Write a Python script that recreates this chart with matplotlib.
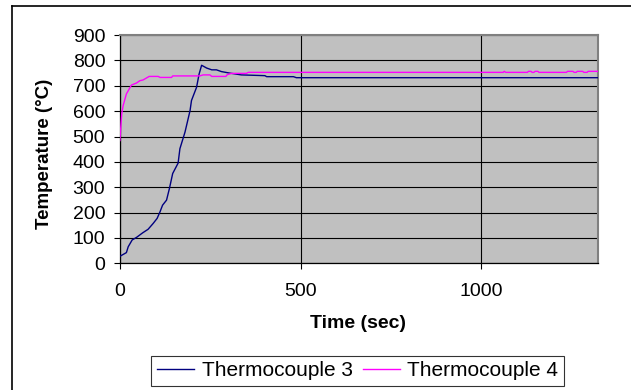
import matplotlib
matplotlib.use("Agg")
import matplotlib.pyplot as plt
from matplotlib.lines import Line2D

plt.rcParams['font.family'] = ['Liberation Sans', 'DejaVu Sans']

# Thermocouple 3 (time in sec, temperature in C)
tc3_time = [0, 2, 18, 23, 34, 46, 63, 78, 92, 103, 111, 118, 129, 137, 146, 161,
            166, 180, 194, 198, 212, 219, 226, 240, 254, 267, 281, 304, 336, 401,
            406, 480, 488, 1321]
tc3_temp = [28, 29, 42, 65, 92, 102, 120, 134, 157, 177, 203, 229, 249, 295, 354, 395,
            452, 517, 602, 642, 694, 746, 781, 770, 763, 763, 756, 750, 743, 740,
            736, 736, 732, 732]

# Thermocouple 4
tc4_time = [0, 5, 9, 18, 32, 46, 55, 64, 81, 106, 111, 143, 146, 221, 230, 249,
            254, 293, 297, 309, 350, 355, 1060, 1063, 1067, 1127, 1130, 1137, 1140,
            1145, 1148, 1156, 1159, 1235, 1238, 1253, 1256, 1262, 1265, 1280, 1283,
            1292, 1295, 1321]
tc4_temp = [484, 589, 622, 668, 703, 711, 720, 723, 737, 737, 733, 733, 739, 739, 743, 743,
            737, 737, 744, 749, 749, 753, 753, 757, 753, 753, 757, 757, 753,
            753, 757, 757, 753, 753, 757, 757, 753, 753, 757, 757, 753,
            753, 757, 757]

x_ticks = [0, 500, 1000]
y_ticks = list(range(0, 901, 100))

fig = plt.figure(figsize=(6.31, 3.9), dpi=100)
ax = fig.add_axes([0.190, 0.325, 0.757, 0.585])
ax.set_facecolor('#c0c0c0')

# outer chart border
fig.add_artist(Line2D([11.5/631, 11.5/631], [0, 1 - 5.5/390], transform=fig.transFigure,
                      color='black', lw=1.2))
fig.add_artist(Line2D([11.5/631, 1], [1 - 5.5/390, 1 - 5.5/390], transform=fig.transFigure,
                      color='black', lw=1.2))

ax.plot(tc3_time, tc3_temp, color='#000080', lw=1.0, label='Thermocouple 3', zorder=3)
ax.plot(tc4_time, tc4_temp, color='#ff00ff', lw=1.0, label='Thermocouple 4', zorder=3)

ax.set_xlim(0, 1321)
ax.set_ylim(0, 900)
ax.set_xticks(x_ticks)
ax.set_yticks(y_ticks)
ax.grid(True, color='black', lw=0.8, zorder=1)
ax.set_axisbelow(True)

for s in ['left', 'bottom']:
    ax.spines[s].set_color('black')
    ax.spines[s].set_linewidth(0.9)
for s in ['top', 'right']:
    ax.spines[s].set_color('#808080')
    ax.spines[s].set_linewidth(1.5)

ax.tick_params(axis='x', direction='out', length=4, width=0.8, pad=10, labelsize=14)
ax.tick_params(axis='y', direction='out', length=4.5, width=0.8, pad=6, labelsize=14)

fig.text(358.5/631, 1 - 323/390, 'Time (sec)', ha='center', va='center',
         fontsize=14, fontweight='bold')
fig.text(45/631, 1 - 154/390, 'Temperature (°C)', ha='center', va='center',
         rotation=90, fontsize=13.5, fontweight='bold')

leg = ax.legend(loc='center', bbox_to_anchor=(357.5/631, 1 - 371/390),
                bbox_transform=fig.transFigure, ncol=2, fontsize=15,
                frameon=True, fancybox=False, shadow=False, handlelength=1.8,
                columnspacing=0.48, handletextpad=0.34, borderpad=0.28,
                labelspacing=0.2)
leg.get_frame().set_edgecolor('black')
leg.get_frame().set_linewidth(0.8)

fig.savefig('out.png', dpi=100)
